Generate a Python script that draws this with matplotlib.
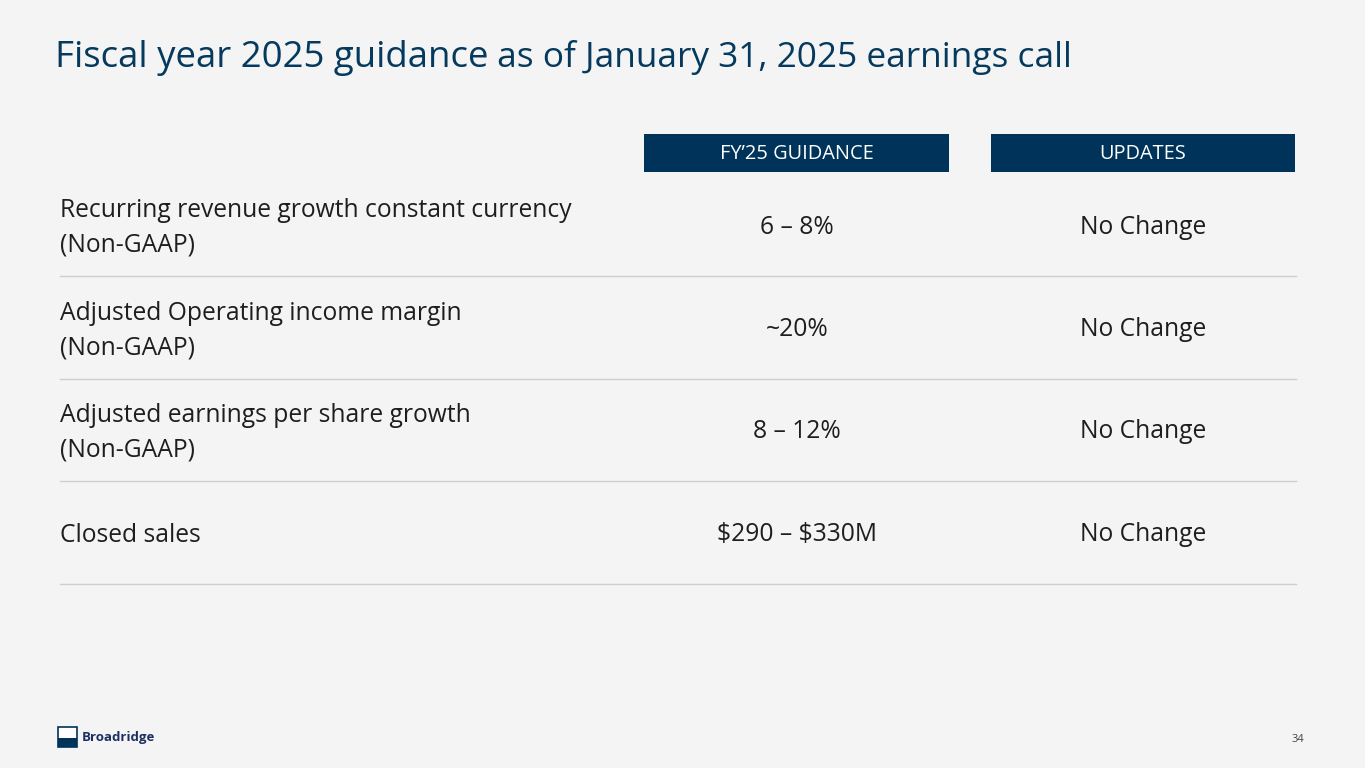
import matplotlib.pyplot as plt
from matplotlib.patches import Rectangle

title_main = "Fiscal year 2025 guidance"
title_sub = " as of January 31, 2025 earnings call"
col_headers = ["FY\u201925 GUIDANCE", "UPDATES"]
row_labels = ["Recurring revenue growth constant currency\n(Non-GAAP)",
              "Adjusted Operating income margin\n(Non-GAAP)",
              "Adjusted earnings per share growth\n(Non-GAAP)",
              "Closed sales"]
guidance = ["6 \u2013 8%", "~20%", "8 \u2013 12%", "\\$290 \u2013 \\$330M"]
updates = ["No Change", "No Change", "No Change", "No Change"]
page_no = "34"

navy = "#053a5e"
head_bg = "#003359"
txt = "#1e1e1e"
bg = "#f4f4f4"

plt.rcParams['font.family'] = ['Open Sans', 'DejaVu Sans']

fig = plt.figure(figsize=(13.65, 7.68), dpi=100, facecolor=bg)
ax = fig.add_axes([0, 0, 1, 1])
ax.set_xlim(0, 1365)
ax.set_ylim(768, 0)
ax.axis('off')

# title in two sizes, second part placed right after the first
t1 = ax.text(55, 67, title_main, fontsize=26.4, color=navy, va='baseline', ha='left')
fig.canvas.draw()
x_end = t1.get_window_extent().x1
ax.annotate(title_sub, xy=(x_end, 768 - 67), xycoords='figure pixels',
            fontsize=25.4, color=navy, va='baseline', ha='left')

# column header boxes
col_x = [(644, 949), (991, 1295)]
for (x0, x1), h in zip(col_x, col_headers):
    ax.add_patch(Rectangle((x0, 134), x1 - x0, 38, facecolor=head_bg, edgecolor='none'))
    ax.text((x0 + x1) / 2, 154, h, fontsize=14.4, color='white', ha='center', va='center')

# rows
row_h = 102.5
first_line = 276
for i, (lab, g, u) in enumerate(zip(row_labels, guidance, updates)):
    yc = 228 + i * row_h
    ax.text(60, yc, lab, fontsize=17.7, color=txt, ha='left', va='center', linespacing=1.5)
    ax.text(797, yc - 1, g, fontsize=17.7, color=txt, ha='center', va='center')
    ax.text(1143, yc - 1, u, fontsize=17.7, color=txt, ha='center', va='center')
    ly = first_line + i * row_h
    ax.plot([60, 1296], [ly, ly], color='#cfcfcf', lw=1)

# page number
ax.text(1298, 739, page_no, fontsize=8, color='#444444', ha='center', va='center')

# logo
ax.add_patch(Rectangle((58, 727), 19, 20, facecolor='white', edgecolor=head_bg, lw=1.2))
ax.add_patch(Rectangle((58, 738), 19, 9, facecolor=head_bg, edgecolor='none'))
ax.text(82, 738, "Broadridge", fontsize=9.5, fontweight='bold', color='#1b2f63',
        ha='left', va='center')

fig.savefig("out.png", dpi=100, facecolor=bg)
